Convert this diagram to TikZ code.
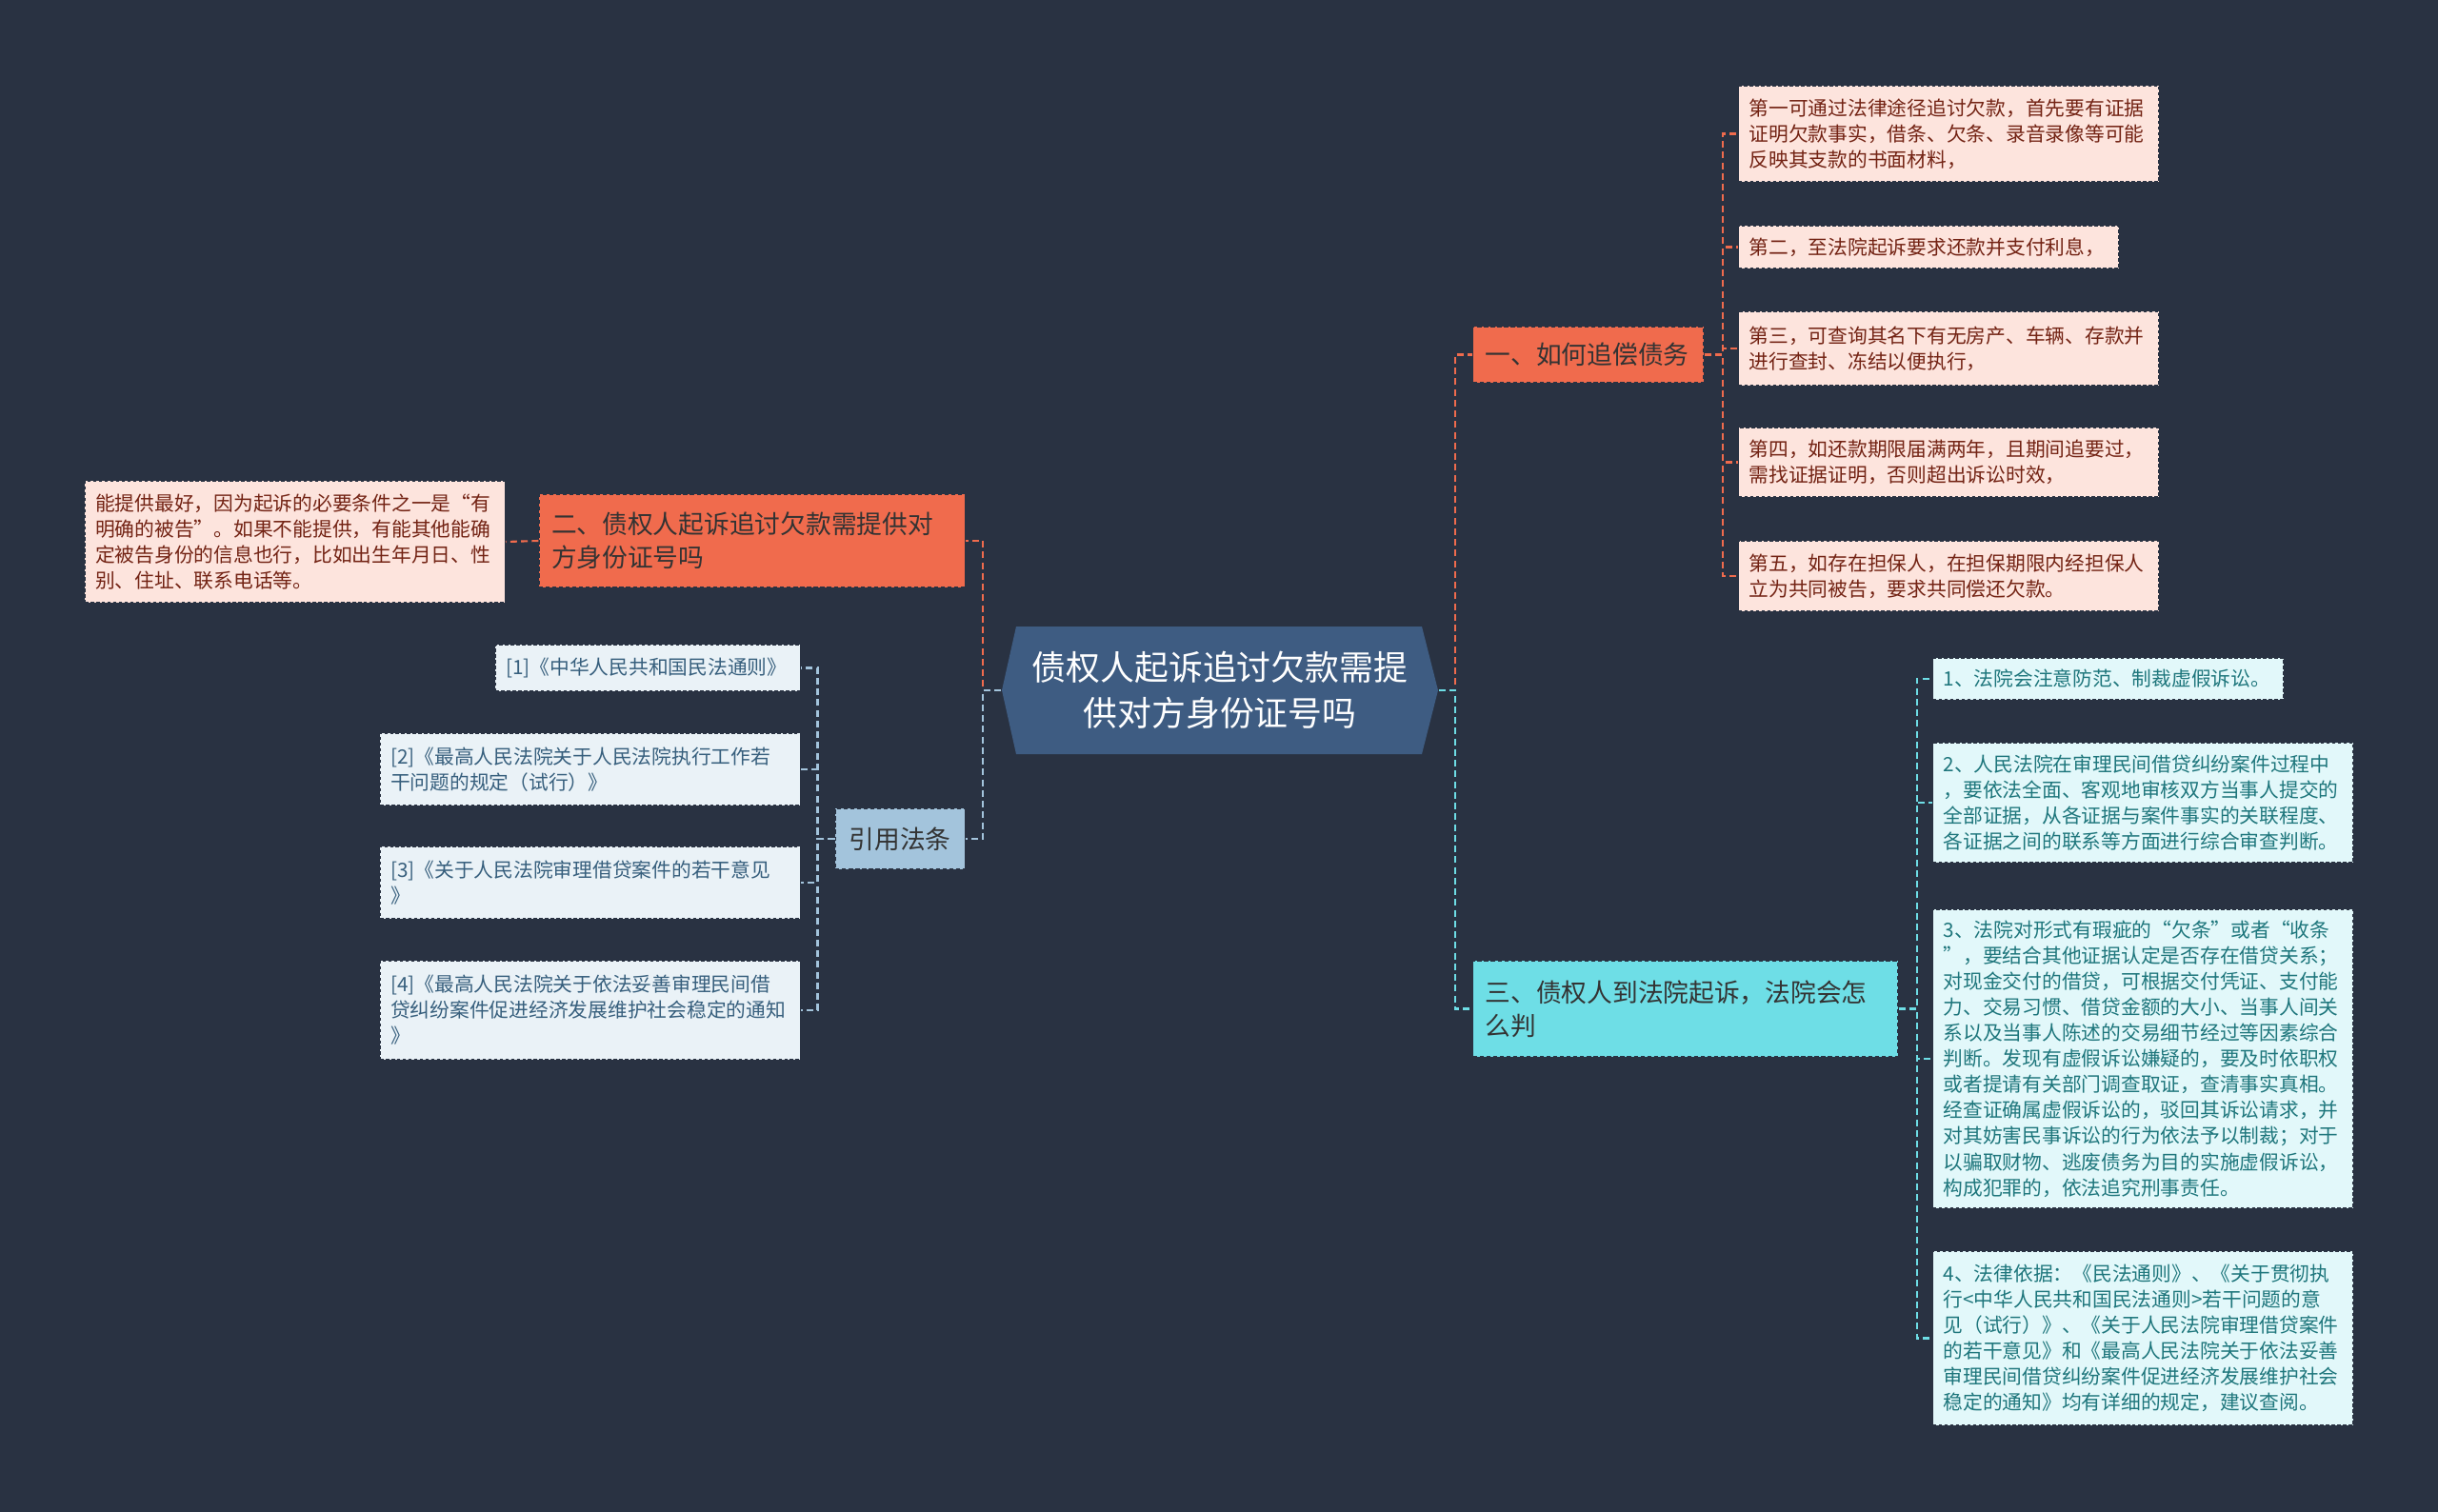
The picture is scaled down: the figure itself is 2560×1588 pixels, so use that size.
\documentclass[tikz,border=0pt]{standalone}
\usepackage{fontspec}
\setmainfont{Noto Sans CJK SC}
\usepackage{tikz}
\definecolor{bgcol}{RGB}{41,50,66}
\definecolor{rootcol}{RGB}{62,92,130}
\definecolor{cOrange}{RGB}{240,107,77}
\definecolor{cCyan}{RGB}{110,222,230}
\definecolor{cBlue}{RGB}{163,196,220}
\definecolor{pinkfill}{RGB}{253,228,221}
\definecolor{pinktext}{RGB}{115,35,20}
\definecolor{cyanfill}{RGB}{226,248,250}
\definecolor{cyantext}{RGB}{30,118,124}
\definecolor{bluefill}{RGB}{234,242,247}
\definecolor{bluetext}{RGB}{55,95,125}
\newcommand{\leaffont}{\fontsize{5.9pt}{7.7pt}\selectfont}
\newcommand{\topicfont}{\fontsize{7.6pt}{10pt}\selectfont}
\newcommand{\rootfont}{\fontsize{10.2pt}{13.7pt}\selectfont}

\begin{document}
\begin{tikzpicture}[x=0.01cm, y=-0.01cm,
    topic/.style={rectangle, inner xsep=0.13cm, inner ysep=0.04cm, align=left,
        font=\topicfont, text=black!80, draw=bgcol, line width=0.4pt,
        dash pattern=on 1.2pt off 0.8pt, text width=#1},
    leaf/.style={rectangle, inner xsep=0.11cm, inner ysep=0.04cm, align=left,
        font=\leaffont, draw=bgcol, line width=0.4pt,
        dash pattern=on 1pt off 0.7pt, text width=#1},
    pinkleaf/.style={leaf=#1, fill=pinkfill, text=pinktext},
    cyanleaf/.style={leaf=#1, fill=cyanfill, text=cyantext},
    blueleaf/.style={leaf=#1, fill=bluefill, text=bluetext},
    link/.style={line width=0.6pt, dash pattern=on 2pt off 1.2pt}]

    % --- Canvas ---
    \fill[bgcol] (0,0) rectangle (2560,1588);

    % --- Root ---
    \fill[rootcol] (1052,725) -- (1067,658) -- (1493,658) -- (1510,725)
        -- (1493,792) -- (1067,792) -- cycle;
    \node[minimum width=4.58cm, minimum height=1.34cm, align=center,
        text=white, font=\rootfont] (root) at (1281,725)
        {债权人起诉追讨欠款需提\\供对方身份证号吗};

    % --- Topics ---
    \node[topic=2.16cm, fill=cOrange, minimum height=0.59cm, anchor=west]
        (recover) at (1546,372.5) {一、如何追偿债务};
    \node[topic=4.21cm, fill=cOrange, minimum height=0.98cm, anchor=east]
        (idcard) at (1014,568) {二、债权人起诉追讨欠款需提供对\\方身份证号吗};
    \node[topic=4.20cm, fill=cCyan, minimum height=1.01cm, anchor=west]
        (court) at (1546,1059.5) {三、债权人到法院起诉，法院会怎\\么判};
    \node[topic=1.10cm, fill=cBlue, minimum height=0.64cm, anchor=east,
        align=center] (laws) at (1014,881) {引用法条};

    % --- Leaves of topic one ---
    \node[pinkleaf=4.19cm, minimum height=1.01cm, anchor=west] (rec1) at (1825,140.5)
        {第一可通过法律途径追讨欠款，首先要有证据\\证明欠款事实，借条、欠条、录音录像等可能\\反映其支款的书面材料，};
    \node[pinkleaf=3.77cm, minimum height=0.45cm, anchor=west] (rec2) at (1825,259.5)
        {第二，至法院起诉要求还款并支付利息，};
    \node[pinkleaf=4.19cm, minimum height=0.78cm, anchor=west] (rec3) at (1825,366)
        {第三，可查询其名下有无房产、车辆、存款并\\进行查封、冻结以便执行，};
    \node[pinkleaf=4.19cm, minimum height=0.73cm, anchor=west] (rec4) at (1825,485.5)
        {第四，如还款期限届满两年，且期间追要过，\\需找证据证明，否则超出诉讼时效，};
    \node[pinkleaf=4.19cm, minimum height=0.74cm, anchor=west] (rec5) at (1825,605)
        {第五，如存在担保人，在担保期限内经担保人\\立为共同被告，要求共同偿还欠款。};

    % --- Leaf of topic two ---
    \node[pinkleaf=4.19cm, minimum height=1.28cm, anchor=east] (idnote) at (531,569)
        {能提供最好，因为起诉的必要条件之一是“有\\明确的被告”。如果不能提供，有能其他能确\\定被告身份的信息也行，比如出生年月日、性\\别、住址、联系电话等。};

    % --- Leaves of cited laws ---
    \node[blueleaf=2.98cm, minimum height=0.49cm, anchor=east] (law1) at (841,701.5)
        {[1]《中华人民共和国民法通则》};
    \node[blueleaf=4.19cm, minimum height=0.76cm, anchor=east] (law2) at (841,808)
        {[2]《最高人民法院关于人民法院执行工作若\\干问题的规定（试行）》};
    \node[blueleaf=4.19cm, minimum height=0.76cm, anchor=east] (law3) at (841,927)
        {[3]《关于人民法院审理借贷案件的若干意见\\》};
    \node[blueleaf=4.19cm, minimum height=1.04cm, anchor=east] (law4) at (841,1061)
        {[4]《最高人民法院关于依法妥善审理民间借\\贷纠纷案件促进经济发展维护社会稳定的通知\\》};

    % --- Leaves of topic three ---
    \node[cyanleaf=3.46cm, minimum height=0.44cm, anchor=west] (crt1) at (2029,713)
        {1、法院会注意防范、制裁虚假诉讼。};
    \node[cyanleaf=4.19cm, minimum height=1.26cm, anchor=west] (crt2) at (2029,843)
        {2、人民法院在审理民间借贷纠纷案件过程中\\，要依法全面、客观地审核双方当事人提交的\\全部证据，从各证据与案件事实的关联程度、\\各证据之间的联系等方面进行综合审查判断。};
    \node[cyanleaf=4.19cm, minimum height=3.14cm, anchor=west] (crt3) at (2029,1112)
        {3、法院对形式有瑕疵的“欠条”或者“收条\\”，要结合其他证据认定是否存在借贷关系；\\对现金交付的借贷，可根据交付凭证、支付能\\力、交易习惯、借贷金额的大小、当事人间关\\系以及当事人陈述的交易细节经过等因素综合\\判断。发现有虚假诉讼嫌疑的，要及时依职权\\或者提请有关部门调查取证，查清事实真相。\\经查证确属虚假诉讼的，驳回其诉讼请求，并\\对其妨害民事诉讼的行为依法予以制裁；对于\\以骗取财物、逃废债务为目的实施虚假诉讼，\\构成犯罪的，依法追究刑事责任。};
    \node[cyanleaf=4.19cm, minimum height=1.83cm, anchor=west] (crt4) at (2029,1405.5)
        {4、法律依据：《民法通则》、《关于贯彻执\\行<中华人民共和国民法通则>若干问题的意\\见（试行）》、《关于人民法院审理借贷案件\\的若干意见》和《最高人民法院关于依法妥善\\审理民间借贷纠纷案件促进经济发展维护社会\\稳定的通知》均有详细的规定，建议查阅。};

    % --- Connectors ---
    \draw[link, cOrange] (root.west) -- ++(-19,0) |- (idcard.east);
    \draw[link, cBlue] (root.west) -- ++(-19,0) |- (laws.east);
    \draw[link, cOrange] (root.east) -- ++(17,0) |- (recover.west);
    \draw[link, cCyan] (root.east) -- ++(17,0) |- (court.west);

    \foreach \k in {1,...,5}
        \draw[link, cOrange] (recover.east) -- ++(19,0) |- (rec\k.west);
    \draw[link, cOrange] (idcard.west) -- (idnote.east);
    \foreach \k in {1,...,4}
        \draw[link, cBlue] (laws.west) -- ++(-18,0) |- (law\k.east);
    \foreach \k in {1,...,4}
        \draw[link, cCyan] (court.east) -- ++(19,0) |- (crt\k.west);

\end{tikzpicture}
\end{document}
